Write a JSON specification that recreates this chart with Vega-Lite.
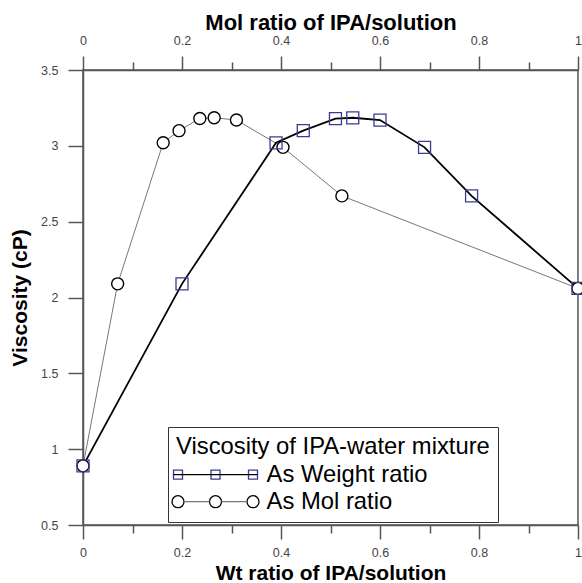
{
  "$schema": "https://vega.github.io/schema/vega-lite/v6.json",
  "width": 495,
  "height": 455,
  "autosize": "none",
  "padding": {"left": 83, "top": 70, "right": 4, "bottom": 58},
  "background": "white",
  "config": {"view": {"stroke": "#555", "strokeWidth": 1.5}, "font": "Liberation Sans"},
  "data": {"values": [
    {"series": "As Weight ratio", "ratio": 0, "viscosity": 0.89},
    {"series": "As Weight ratio", "ratio": 0.2, "viscosity": 2.09},
    {"series": "As Weight ratio", "ratio": 0.39, "viscosity": 3.02},
    {"series": "As Weight ratio", "ratio": 0.445, "viscosity": 3.1},
    {"series": "As Weight ratio", "ratio": 0.51, "viscosity": 3.18},
    {"series": "As Weight ratio", "ratio": 0.545, "viscosity": 3.185},
    {"series": "As Weight ratio", "ratio": 0.6, "viscosity": 3.17},
    {"series": "As Weight ratio", "ratio": 0.69, "viscosity": 2.99},
    {"series": "As Weight ratio", "ratio": 0.785, "viscosity": 2.67},
    {"series": "As Weight ratio", "ratio": 1, "viscosity": 2.06},
    {"series": "As Mol ratio", "ratio": 0, "viscosity": 0.89},
    {"series": "As Mol ratio", "ratio": 0.07, "viscosity": 2.09},
    {"series": "As Mol ratio", "ratio": 0.162, "viscosity": 3.02},
    {"series": "As Mol ratio", "ratio": 0.194, "viscosity": 3.1},
    {"series": "As Mol ratio", "ratio": 0.236, "viscosity": 3.18},
    {"series": "As Mol ratio", "ratio": 0.265, "viscosity": 3.185},
    {"series": "As Mol ratio", "ratio": 0.31, "viscosity": 3.17},
    {"series": "As Mol ratio", "ratio": 0.404, "viscosity": 2.99},
    {"series": "As Mol ratio", "ratio": 0.523, "viscosity": 2.67},
    {"series": "As Mol ratio", "ratio": 1, "viscosity": 2.06}
  ]},
  "layer": [
    {
      "transform": [{"filter": "datum.series == 'As Mol ratio'"}],
      "mark": {"type": "line", "color": "#777", "strokeWidth": 1},
      "encoding": {
        "x": {"field": "ratio", "type": "quantitative", "scale": {"domain": [0, 1], "nice": false, "zero": false},
          "axis": {"orient": "bottom", "title": "Wt ratio of IPA/solution",
            "values": [0, 0.1, 0.2, 0.3, 0.4, 0.5, 0.6, 0.7, 0.8, 0.9, 1], "format": "~g",
            "labelExpr": "round(datum.value*10)%2==0 ? datum.label : ''",
            "tickSize": {"condition": {"test": "round(datum.value*10)%2==0", "value": 14}, "value": 8},
            "labelFlush": false, "labelOverlap": false, "grid": false,
            "labelFont": "Liberation Sans", "labelFontSize": 12.5, "labelColor": "#444", "labelPadding": 7,
            "domainColor": "#555", "domainWidth": 1.5, "tickColor": "#555", "tickWidth": 1.5,
            "titleFont": "Liberation Sans", "titleFontSize": 21, "titleFontWeight": "bold", "titleColor": "#000", "titlePadding": 4}},
        "y": {"field": "viscosity", "type": "quantitative", "scale": {"domain": [0.5, 3.5], "nice": false, "zero": false},
          "axis": {"title": "Viscosity (cP)",
            "values": [0.5, 0.75, 1, 1.25, 1.5, 1.75, 2, 2.25, 2.5, 2.75, 3, 3.25, 3.5], "format": "~g",
            "labelExpr": "round(datum.value*4)%2==0 ? datum.label : ''",
            "tickSize": {"condition": {"test": "round(datum.value*4)%2==0", "value": 15}, "value": 8},
            "labelOverlap": false, "labelFlush": false, "grid": false,
            "labelFont": "Liberation Sans", "labelFontSize": 12.5, "labelColor": "#444", "labelPadding": 10,
            "domainColor": "#555", "domainWidth": 1.5, "tickColor": "#555", "tickWidth": 1.5,
            "titleFont": "Liberation Sans", "titleFontSize": 21, "titleFontWeight": "bold", "titleColor": "#000", "titlePadding": 10}}
      }
    },
    {
      "transform": [{"filter": "datum.series == 'As Weight ratio'"}],
      "mark": {"type": "line", "color": "#000", "strokeWidth": 1.8},
      "encoding": {
        "x": {"field": "ratio", "type": "quantitative", "scale": {"domain": [0, 1], "nice": false, "zero": false},
          "axis": {"orient": "top", "title": "Mol ratio of IPA/solution",
            "values": [0, 0.1, 0.2, 0.3, 0.4, 0.5, 0.6, 0.7, 0.8, 0.9, 1], "format": "~g",
            "labelExpr": "round(datum.value*10)%2==0 ? datum.label : ''",
            "tickSize": {"condition": {"test": "round(datum.value*10)%2==0", "value": 14}, "value": 8},
            "labelFlush": false, "labelOverlap": false, "grid": false,
            "labelFont": "Liberation Sans", "labelFontSize": 12.5, "labelColor": "#444", "labelPadding": 9,
            "domainColor": "#555", "domainWidth": 1.5, "tickColor": "#555", "tickWidth": 1.5,
            "titleFont": "Liberation Sans", "titleFontSize": 22, "titleFontWeight": "bold", "titleColor": "#000", "titlePadding": 0}},
        "y": {"field": "viscosity", "type": "quantitative", "scale": {"domain": [0.5, 3.5], "nice": false, "zero": false}}
      }
    },
    {
      "transform": [{"filter": "datum.series == 'As Mol ratio'"}],
      "mark": {"type": "point", "shape": "circle", "size": 144, "strokeWidth": 1.4, "stroke": "#000", "fill": "white", "filled": true, "opacity": 1},
      "encoding": {
        "x": {"field": "ratio", "type": "quantitative", "axis": null},
        "y": {"field": "viscosity", "type": "quantitative"}
      }
    },
    {
      "transform": [{"filter": "datum.series == 'As Weight ratio'"}],
      "mark": {"type": "point", "shape": "square", "size": 144, "strokeWidth": 1.3, "stroke": "#3b3b8f", "fill": "transparent", "filled": false, "opacity": 1},
      "encoding": {
        "x": {"field": "ratio", "type": "quantitative", "axis": null},
        "y": {"field": "viscosity", "type": "quantitative"}
      }
    },
    {
      "transform": [{"filter": "false"}],
      "mark": {"type": "point", "filled": false, "opacity": 1},
      "encoding": {
        "x": {"field": "ratio", "type": "quantitative", "axis": null},
        "y": {"field": "viscosity", "type": "quantitative"},
        "stroke": {"field": "series", "type": "nominal",
          "scale": {"domain": ["As Weight ratio", "As Mol ratio"], "range": ["#3b3b8f", "#000"]},
          "legend": {"orient": "none", "legendX": 85, "legendY": 357,
            "title": "Viscosity of IPA-water mixture", "titleFont": "Liberation Sans", "titleFontSize": 23.8,
            "titleFontWeight": "normal", "titleColor": "#000", "titlePadding": 4, "titleLimit": 500,
            "labelFont": "Liberation Sans", "labelFontSize": 23.8, "labelColor": "#000", "labelLimit": 400,
            "strokeColor": "#333", "padding": 8, "symbolSize": 4, "symbolStrokeWidth": 1.3,
            "symbolFillColor": "transparent",
            "symbolType": {"expr": "datum.value == 'As Weight ratio' ? 'M-42,-4.5h9v9h-9z M-4.5,-4.5h9v9h-9z M33,-4.5h9v9h-9z' : 'M-43.5,0a6,6 0 1,0 12,0a6,6 0 1,0 -12,0 M-6,0a6,6 0 1,0 12,0a6,6 0 1,0 -12,0 M31.5,0a6,6 0 1,0 12,0a6,6 0 1,0 -12,0'"},
            "symbolOffset": 27.6, "labelOffset": 39.2, "rowPadding": 2}}
      }
    },
    {
      "transform": [{"filter": "false"}],
      "mark": {"type": "point", "filled": false, "opacity": 1},
      "encoding": {
        "x": {"field": "ratio", "type": "quantitative", "axis": null},
        "y": {"field": "viscosity", "type": "quantitative"},
        "color": {"field": "series", "type": "nominal",
          "scale": {"domain": ["w", "m"], "range": ["#000", "#777"]},
          "legend": {"orient": "none", "legendX": 85, "legendY": 357,
            "title": "Viscosity of IPA-water mixture", "titleFont": "Liberation Sans", "titleFontSize": 23.8,
            "titleFontWeight": "normal", "titleColor": "transparent", "titlePadding": 4, "titleLimit": 500,
            "labelExpr": "datum.value == 'w' ? 'As Weight ratio' : 'As Mol ratio'",
            "labelFont": "Liberation Sans", "labelFontSize": 23.8, "labelColor": "transparent", "labelLimit": 400,
            "padding": 8, "symbolSize": 4, "symbolStrokeWidth": 1.3,
            "symbolFillColor": "transparent",
            "symbolType": {"expr": "datum.value == 'w' ? 'M-42,0H42' : 'M-31.5,0H-6M6,0H31.5'"},
            "symbolOffset": 27.6, "labelOffset": 39.2, "rowPadding": 2}}
      }
    }
  ],
  "resolve": {"axis": {"x": "independent"}}
}
